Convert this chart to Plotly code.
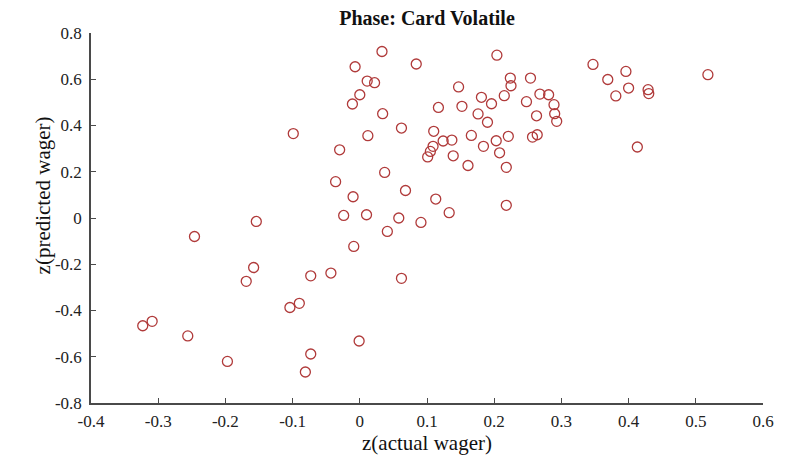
import plotly.graph_objects as go

# z-scored actual vs. predicted wagers, Card Volatile phase
actual_wager = [
    -0.323, -0.309, -0.256, -0.246, -0.197, -0.169, -0.158, -0.154, -0.104, -0.099,
    -0.090, -0.081, -0.073, -0.073, -0.043, -0.036, -0.030, -0.024, -0.011, -0.010,
    -0.009, -0.007, -0.001, 0.000, 0.010, 0.011, 0.012, 0.022, 0.033, 0.034,
    0.037, 0.041, 0.058, 0.062, 0.062, 0.068, 0.084, 0.091, 0.101, 0.105,
    0.109, 0.110, 0.113, 0.117, 0.124, 0.133, 0.137, 0.139, 0.147, 0.152,
    0.161, 0.166, 0.176, 0.181, 0.184, 0.190, 0.196, 0.203, 0.204, 0.208,
    0.215, 0.218, 0.218, 0.221, 0.224, 0.225, 0.248, 0.254, 0.257, 0.263,
    0.264, 0.268, 0.281, 0.289, 0.290, 0.293, 0.347, 0.369, 0.381, 0.396,
    0.400, 0.413, 0.429, 0.430, 0.518,
]
predicted_wager = [
    -0.466, -0.447, -0.510, -0.080, -0.620, -0.274, -0.214, -0.015, -0.387, 0.365,
    -0.369, -0.666, -0.588, -0.250, -0.238, 0.157, 0.295, 0.011, 0.493, 0.092,
    -0.123, 0.654, -0.532, 0.533, 0.014, 0.592, 0.356, 0.585, 0.720, 0.451,
    0.197, -0.058, 0.000, 0.389, -0.261, 0.119, 0.666, -0.019, 0.264, 0.288,
    0.310, 0.375, 0.082, 0.478, 0.333, 0.023, 0.337, 0.269, 0.567, 0.483,
    0.227, 0.357, 0.450, 0.522, 0.310, 0.414, 0.494, 0.334, 0.704, 0.282,
    0.529, 0.219, 0.055, 0.353, 0.605, 0.572, 0.503, 0.605, 0.350, 0.442,
    0.360, 0.536, 0.533, 0.490, 0.451, 0.418, 0.664, 0.599, 0.528, 0.634,
    0.562, 0.307, 0.555, 0.538, 0.620,
]

x_tick_vals = [-0.4, -0.3, -0.2, -0.1, 0, 0.1, 0.2, 0.3, 0.4, 0.5, 0.6]
x_tick_text = ["-0.4", "-0.3", "-0.2", "-0.1", "0", "0.1", "0.2", "0.3", "0.4", "0.5", "0.6"]
y_tick_vals = [-0.8, -0.6, -0.4, -0.2, 0, 0.2, 0.4, 0.6, 0.8]
y_tick_text = ["-0.8", "-0.6", "-0.4", "-0.2", "0", "0.2", "0.4", "0.6", "0.8"]

FONT = "Liberation Serif"
AXIS_COLOR = "#4a4a4a"
TEXT_COLOR = "#111"

fig = go.Figure(
    go.Scatter(
        x=actual_wager,
        y=predicted_wager,
        mode="markers",
        marker=dict(
            symbol="circle-open",
            size=10,
            color="#b03a3a",
            line=dict(width=1.3, color="#b03a3a"),
        ),
        showlegend=False,
    )
)

axis_common = dict(
    showgrid=False,
    zeroline=False,
    showline=True,
    linecolor=AXIS_COLOR,
    linewidth=1.5,
    ticks="inside",
    ticklen=5,
    tickwidth=1.2,
    tickcolor=AXIS_COLOR,
    tickfont=dict(family=FONT, size=17, color="#222"),
    mirror=False,
    automargin=False,
)

fig.update_layout(
    width=791,
    height=457,
    margin=dict(l=91, r=28, t=33, b=54, autoexpand=False),
    paper_bgcolor="white",
    plot_bgcolor="white",
    title=dict(
        text="<b>Phase: Card Volatile</b>",
        x=0.5,
        xref="paper",
        xanchor="center",
        y=1 - 18 / 457,
        yref="container",
        yanchor="middle",
        font=dict(family=FONT, size=20, color=TEXT_COLOR),
        automargin=False,
    ),
    xaxis=dict(
        range=[-0.4, 0.6],
        tickvals=x_tick_vals,
        ticktext=x_tick_text,
        ticklabelstandoff=2,
        title=dict(text="z(actual wager)", font=dict(family=FONT, size=21, color=TEXT_COLOR), standoff=2),
        **axis_common,
    ),
    yaxis=dict(
        range=[-0.8, 0.8],
        tickvals=y_tick_vals,
        ticktext=y_tick_text,
        ticklabelstandoff=4,
        **axis_common,
    ),
    annotations=[
        dict(
            text="z(predicted wager)",
            textangle=-90,
            xref="paper",
            yref="paper",
            x=-0.072,
            y=0.56,
            xanchor="center",
            yanchor="middle",
            showarrow=False,
            font=dict(family=FONT, size=21, color=TEXT_COLOR),
        )
    ],
)

fig.write_html("out.html")
